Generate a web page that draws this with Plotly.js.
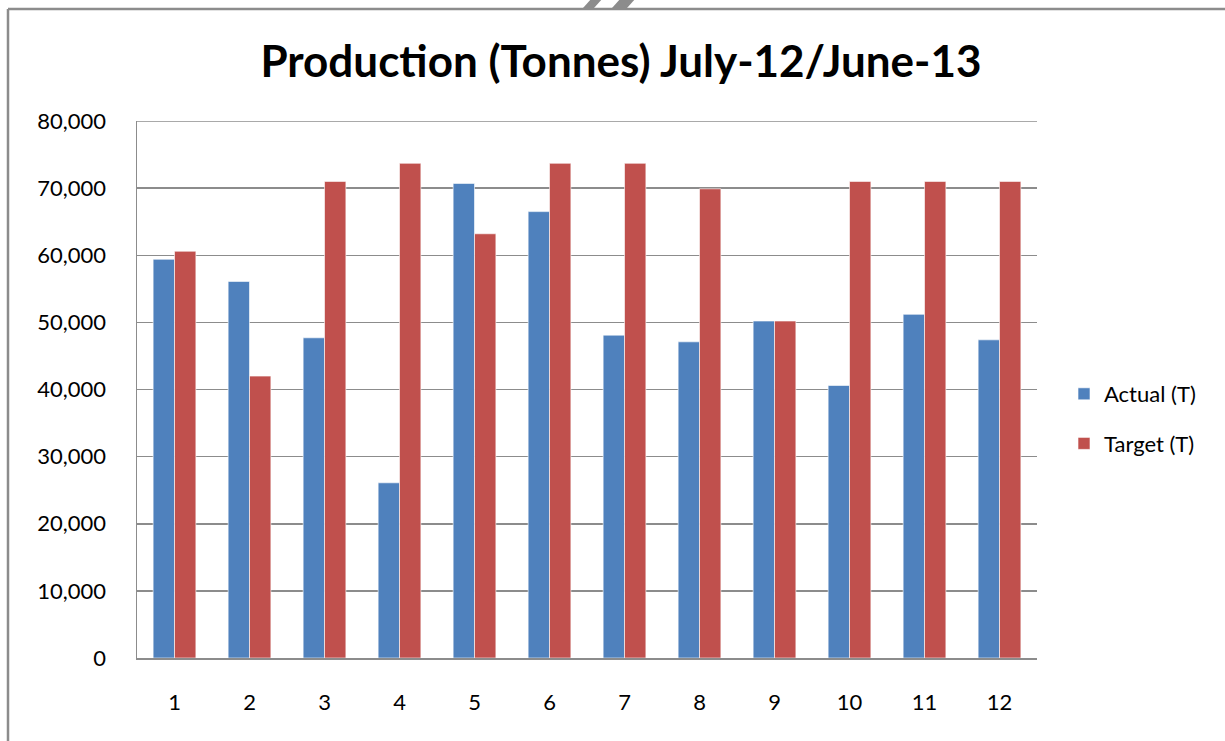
<!DOCTYPE html>
<html>
<head>
<meta charset="utf-8">
<script src="https://cdn.plot.ly/plotly-3.0.1.min.js"></script>
<style>
html,body{margin:0;padding:0;background:#fff;}
#chart{width:1225px;height:741px;}
</style>
</head>
<body>
<div id="chart"></div>
<script>
const categories = ["1","2","3","4","5","6","7","8","9","10","11","12"];
const actualValues = [59400, 56100, 47700, 26100, 70700, 66500, 48100, 47100, 50200, 40600, 51200, 47400];
const targetValues = [60600, 42000, 71000, 73700, 63200, 73700, 73700, 69900, 50200, 71000, 71000, 71000];
const yTickValues = [0, 10000, 20000, 30000, 40000, 50000, 60000, 70000, 80000];
const yTickLabels = ["0", "10,000", "20,000", "30,000", "40,000", "50,000", "60,000", "70,000", "80,000"];

const FONT = "Lato, 'Open Sans', sans-serif";

// plot area in pixels: x 137..1037, y 121..658
const L = 137, R = 1037, T = 121, B = 658;
const px = x => (x - L) / (R - L);
const py = y => (B - y) / (B - T);

const traces = [
  {type: "bar", name: "Actual (T)", x: categories, y: actualValues, legendgroup: "a",
   marker: {color: "#4F81BD", line: {color: "rgba(255,255,255,0.6)", width: 1}}},
  {type: "bar", name: "Target (T)", x: categories, y: targetValues, legendgroup: "b",
   marker: {color: "#C0504D", line: {color: "rgba(255,255,255,0.6)", width: 1}}}
];

const frame = "#8c8c8c";
const grid = "#8c8c8c";
const layout = {
  width: 1225, height: 741,
  margin: {l: L, r: 1225 - R, t: T, b: 741 - B, pad: 0},
  paper_bgcolor: "#fff", plot_bgcolor: "#fff",
  title: {text: "<b>Production (Tonnes) July-12/June-13</b>", font: {family: FONT, size: 44, color: "#000"},
          x: 621/1225, xanchor: "center", y: 1 - 62/741, yanchor: "middle", xref: "container"},
  barmode: "group", bargap: 0.43, bargroupgap: 0,
  showlegend: true,
  legend: {x: px(1064), y: py(419), xanchor: "left", yanchor: "middle", traceorder: "grouped",
           font: {family: FONT, size: 22, color: "#000"}, tracegroupgap: 18,
           itemwidth: 30, bgcolor: "rgba(0,0,0,0)"},
  xaxis: {type: "category", showgrid: false, zeroline: false, showline: true, linecolor: grid, linewidth: 1.5,
          ticks: "", tickfont: {family: FONT, size: 22, color: "#000"}, ticklabelstandoff: 24},
  yaxis: {range: [0, 80000], tickvals: yTickValues, ticktext: yTickLabels, showgrid: true, gridcolor: grid, gridwidth: 1.5,
          zeroline: false, showline: true, linecolor: grid, linewidth: 1.5, ticks: "",
          tickfont: {family: FONT, size: 22, color: "#000"}, ticklabelstandoff: 25},
  shapes: [
    {type: "line", xref: "paper", yref: "y", x0: 0, x1: 1, y0: 80000, y1: 80000, line: {color: grid, width: 1.5}},
    {type: "line", xref: "paper", yref: "paper", x0: px(8), x1: px(1230), y0: py(9), y1: py(9), line: {color: frame, width: 2.5}},
    {type: "line", xref: "paper", yref: "paper", x0: px(8), x1: px(8), y0: py(9), y1: py(745), line: {color: frame, width: 2.5}},
    {type: "path", xref: "paper", yref: "paper",
     path: `M ${px(583)} ${py(8)} L ${px(592)} ${py(-2)} L ${px(603)} ${py(-2)} L ${px(594)} ${py(8)} Z`,
     fillcolor: "#8c8c8c", line: {width: 0}},
    {type: "path", xref: "paper", yref: "paper",
     path: `M ${px(612)} ${py(8)} L ${px(621)} ${py(-2)} L ${px(636)} ${py(-2)} L ${px(627)} ${py(8)} Z`,
     fillcolor: "#8c8c8c", line: {width: 0}}
  ]
};

Plotly.newPlot("chart", traces, layout, {displayModeBar: false, staticPlot: true});
</script>
</body>
</html>
